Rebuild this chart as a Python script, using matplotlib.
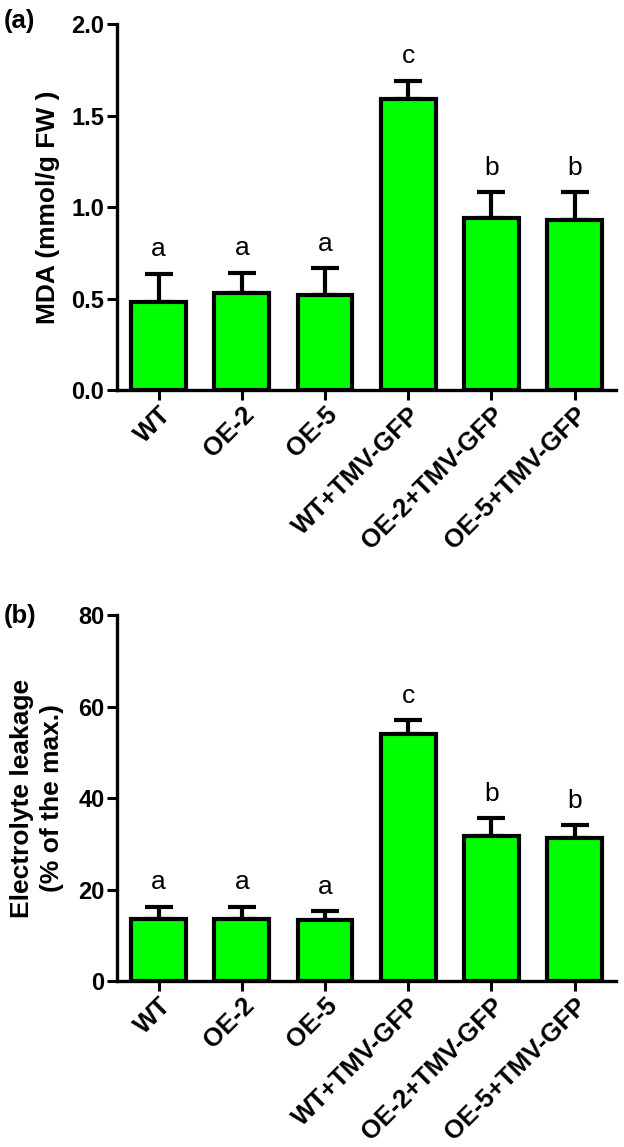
import numpy as np
import matplotlib
matplotlib.use("Agg")
import matplotlib.pyplot as plt
import matplotlib.transforms as mtransforms

plt.rcParams['font.family'] = ['Liberation Sans', 'DejaVu Sans']

groups = ["WT", "OE-2", "OE-5", "WT+TMV-GFP", "OE-2+TMV-GFP", "OE-5+TMV-GFP"]

# panel (a) MDA content
mda_mean = [0.48, 0.53, 0.52, 1.59, 0.94, 0.93]
mda_err = [0.155, 0.11, 0.145, 0.10, 0.14, 0.15]
mda_letters = ["a", "a", "a", "c", "b", "b"]

# panel (b) electrolyte leakage
el_mean = [13.5, 13.6, 13.3, 54.0, 31.7, 31.2]
el_err = [2.7, 2.6, 2.0, 3.0, 3.9, 2.9]
el_letters = ["a", "a", "a", "c", "b", "b"]

fig = plt.figure(figsize=(6.24, 11.47), dpi=100)
ax1 = fig.add_axes([0.1875, 0.660, 0.800, 0.319])
ax2 = fig.add_axes([0.1875, 0.1447, 0.800, 0.319])


def draw_panel(ax, means, errs, letters, ylim, yticks, ylabel, ticklabels):
    x = np.arange(len(groups))
    ax.bar(x, means, width=0.66, color="#00ff00", edgecolor="black",
           linewidth=3, zorder=2)
    ax.errorbar(x, means, yerr=[np.zeros(len(errs)), errs], fmt="none",
                ecolor="black", elinewidth=3, capsize=10, capthick=3, zorder=1)
    for xi, m, e, lab in zip(x, means, errs, letters):
        ax.annotate(lab, (xi, m + e), xytext=(0, 9), textcoords="offset points",
                    ha="center", va="bottom", fontsize=19)
    ax.set_xlim(-0.5, 5.5)
    ax.set_ylim(*ylim)
    ax.set_yticks(yticks)
    ax.set_yticklabels(ticklabels, fontsize=17, fontweight="bold")
    ax.set_xticks(x)
    ax.set_xticklabels(groups, rotation=45, ha="right", va="top",
                       rotation_mode="anchor", fontsize=18.5, fontweight="bold")
    offset = mtransforms.ScaledTranslation(0.04, -0.17, fig.dpi_scale_trans)
    for lbl in ax.get_xticklabels():
        lbl.set_transform(lbl.get_transform() + offset)
    for side in ["top", "right"]:
        ax.spines[side].set_visible(False)
    for side in ["left", "bottom"]:
        ax.spines[side].set_linewidth(2.4)
    ax.tick_params(direction="out", length=7, width=2.2, pad=2)
    ax.set_ylabel(ylabel, fontsize=19, fontweight="bold", linespacing=1.3)


draw_panel(ax1, mda_mean, mda_err, mda_letters, (0, 2.0),
           [0, 0.5, 1.0, 1.5, 2.0], "MDA (mmol/g FW )",
           ["0.0", "0.5", "1.0", "1.5", "2.0"])
draw_panel(ax2, el_mean, el_err, el_letters, (0, 80),
           [0, 20, 40, 60, 80], "Electrolyte leakage\n(% of the max.)",
           ["0", "20", "40", "60", "80"])

ax1.yaxis.set_label_coords(-0.114, 0.5)
ax2.yaxis.set_label_coords(-0.106, 0.5)

fig.text(0.006, 0.992, "(a)", fontsize=18.5, fontweight="bold", va="top")
fig.text(0.006, 0.473, "(b)", fontsize=18.5, fontweight="bold", va="top")

fig.savefig("out.png", dpi=100)
